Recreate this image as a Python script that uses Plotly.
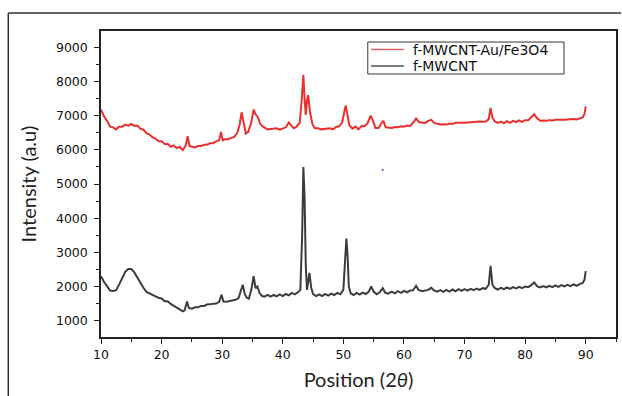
import plotly.graph_objects as go

# ---- data ----
red_x = [10.0, 10.5, 11.0, 11.5, 12.0, 12.5, 13.0, 13.5, 14.0, 14.5, 15.0, 15.5, 16.0, 16.5, 17.0, 17.5,
         18.0, 18.5, 19.0, 19.5, 20.0, 20.5, 21.0, 21.5, 22.0, 22.5, 23.0, 23.5, 24.0, 24.3, 24.6, 25.0,
         25.5, 26.0, 26.5, 27.0, 27.5, 28.0, 28.5, 29.0, 29.5, 29.8, 30.1, 30.5, 31.0, 31.5, 32.0, 32.5,
         32.9, 33.2, 33.5, 33.9, 34.3, 34.8, 35.2, 35.5, 35.9, 36.3, 36.8, 37.5, 38.0, 38.5, 39.0, 39.5,
         40.0, 40.5, 41.0, 41.4, 41.8, 42.3, 42.8, 43.1, 43.4, 43.6, 43.8, 44.0, 44.2, 44.5, 44.9, 45.3,
         45.8, 46.3, 46.8, 47.3, 47.8, 48.3, 48.8, 49.3, 49.8, 50.2, 50.4, 50.7, 51.0, 51.5, 52.0, 52.5,
         53.0, 53.5, 54.0, 54.5, 54.9, 55.3, 55.8, 56.3, 56.6, 57.0, 57.5, 58.0, 58.5, 59.0, 59.5, 60.0,
         60.5, 61.0, 61.5, 62.0, 62.5, 63.0, 63.5, 64.0, 64.5, 65.0, 65.5, 66.0, 66.5, 67.0, 67.5, 68.0,
         68.5, 69.0, 69.5, 70.0, 70.5, 71.0, 71.5, 72.0, 72.5, 73.0, 73.5, 74.0, 74.3, 74.6, 75.0, 75.5,
         76.0, 76.5, 77.0, 77.5, 78.0, 78.5, 79.0, 79.5, 80.0, 80.5, 81.0, 81.5, 82.0, 82.5, 83.0, 83.5,
         84.0, 84.5, 85.0, 85.5, 86.0, 86.5, 87.0, 87.5, 88.0, 88.5, 89.0, 89.5, 89.8, 90.0]
red_y = [7180, 6980, 6850, 6680, 6660, 6600, 6680, 6680, 6740, 6710, 6760, 6700, 6710, 6620, 6590, 6490,
         6450, 6370, 6330, 6250, 6250, 6170, 6180, 6090, 6130, 6050, 6090, 5990, 6130, 6400, 6110, 6090,
         6070, 6110, 6110, 6150, 6150, 6190, 6190, 6250, 6280, 6520, 6280, 6310, 6310, 6350, 6380, 6500,
         6750, 7100, 6800, 6480, 6530, 6800, 7180, 7050, 6950, 6750, 6670, 6600, 6610, 6620, 6630, 6590,
         6630, 6660, 6800, 6720, 6630, 6680, 6800, 7400, 8200, 7500, 7020, 7450, 7600, 7100, 6750, 6630,
         6630, 6600, 6610, 6620, 6630, 6600, 6670, 6690, 6800, 7150, 7300, 7000, 6720, 6620, 6680, 6600,
         6700, 6690, 6780, 7000, 6850, 6640, 6640, 6780, 6850, 6660, 6640, 6640, 6670, 6660, 6690, 6680,
         6710, 6700, 6790, 6920, 6810, 6790, 6790, 6850, 6880, 6790, 6760, 6740, 6750, 6740, 6770, 6760,
         6790, 6780, 6790, 6790, 6800, 6800, 6820, 6810, 6830, 6820, 6830, 6900, 7230, 6950, 6830, 6790,
         6830, 6780, 6840, 6790, 6850, 6810, 6860, 6820, 6870, 6870, 6950, 7040, 6920, 6850, 6860, 6850,
         6870, 6860, 6880, 6870, 6880, 6880, 6890, 6890, 6900, 6890, 6920, 6950, 7050, 7270]

black_x = [10.0, 10.5, 11.0, 11.5, 12.0, 12.5, 13.0, 13.5, 14.0, 14.5, 15.0, 15.5, 16.0, 16.5, 17.0, 17.5,
           18.0, 18.5, 19.0, 19.5, 20.0, 20.5, 21.0, 21.5, 22.0, 22.5, 23.0, 23.5, 23.8, 24.2, 24.5, 25.0,
           25.5, 26.0, 26.5, 27.0, 27.5, 28.0, 28.5, 29.0, 29.5, 29.9, 30.2, 30.7, 31.2, 31.7, 32.2, 32.7,
           33.1, 33.4, 33.7, 34.0, 34.4, 34.8, 35.2, 35.5, 35.8, 36.2, 36.6, 37.0, 37.5, 38.0, 38.5, 39.0,
           39.5, 40.0, 40.5, 41.0, 41.5, 42.0, 42.5, 42.9, 43.2, 43.4, 43.6, 43.8, 44.0, 44.4, 44.7, 45.0,
           45.5, 46.0, 46.5, 47.0, 47.5, 48.0, 48.5, 49.0, 49.5, 50.0, 50.3, 50.5, 50.7, 50.9, 51.2, 51.7,
           52.2, 52.7, 53.2, 53.7, 54.2, 54.6, 55.0, 55.5, 56.0, 56.5, 56.9, 57.4, 58.0, 58.5, 59.0, 59.5,
           60.0, 60.5, 61.0, 61.5, 62.0, 62.4, 63.0, 63.5, 64.0, 64.5, 65.0, 65.5, 66.0, 66.5, 67.0, 67.5,
           68.0, 68.5, 69.0, 69.5, 70.0, 70.5, 71.0, 71.5, 72.0, 72.5, 73.0, 73.5, 74.0, 74.3, 74.6, 75.0,
           75.5, 76.0, 76.5, 77.0, 77.5, 78.0, 78.5, 79.0, 79.5, 80.0, 80.5, 81.0, 81.5, 82.0, 82.5, 83.0,
           83.5, 84.0, 84.5, 85.0, 85.5, 86.0, 86.5, 87.0, 87.5, 88.0, 88.5, 89.0, 89.5, 89.8, 90.0]
black_y = [2300, 2130, 2010, 1880, 1870, 1890, 2060, 2240, 2430, 2510, 2510, 2410, 2260, 2090, 1960, 1840,
           1790, 1750, 1710, 1670, 1650, 1570, 1570, 1490, 1430, 1370, 1330, 1270, 1300, 1560, 1370, 1350,
           1390, 1390, 1430, 1430, 1470, 1470, 1490, 1500, 1550, 1760, 1560, 1550, 1570, 1570, 1610, 1660,
           1900, 2050, 1800, 1680, 1640, 1900, 2300, 1950, 2000, 1800, 1720, 1700, 1750, 1700, 1750, 1710,
           1770, 1720, 1780, 1740, 1810, 1770, 1830, 1900, 3500, 5500, 4600, 2600, 1900, 2400, 1950, 1780,
           1720, 1770, 1720, 1780, 1730, 1790, 1750, 1810, 1770, 1900, 2800, 3400, 2900, 2000, 1800, 1750,
           1810, 1760, 1820, 1780, 1850, 2000, 1850, 1770, 1830, 1950, 1820, 1790, 1850, 1800, 1860, 1810,
           1870, 1830, 1880, 1890, 2020, 1900, 1860, 1890, 1900, 1960, 1880, 1850, 1890, 1840, 1900, 1850,
           1910, 1860, 1920, 1870, 1920, 1880, 1930, 1890, 1940, 1900, 1950, 1930, 2050, 2600, 2050, 1950,
           1910, 1960, 1920, 1970, 1930, 1980, 1940, 1990, 1950, 2000, 1980, 2040, 2120, 2000, 1970, 2010,
           1970, 2020, 1980, 2030, 1990, 2040, 2000, 2050, 2010, 2060, 2020, 2070, 2100, 2200, 2450]

series_names = ["f-MWCNT-Au/Fe3O4", "f-MWCNT"]
series_colors = ["#e8302f", "#3c3c3c"]
legend_line_colors = ["#e06464", "#505050"]
x_ticks = [10, 20, 30, 40, 50, 60, 70, 80, 90]
y_ticks = [1000, 2000, 3000, 4000, 5000, 6000, 7000, 8000, 9000]
stray_x = [56.5]
stray_y = [5410]

fig = go.Figure()
fig.add_trace(go.Scatter(x=red_x, y=red_y, mode="lines", name=series_names[0],
                         line=dict(color=series_colors[0], width=2.0)))
fig.add_trace(go.Scatter(x=black_x, y=black_y, mode="lines", name=series_names[1],
                         line=dict(color=series_colors[1], width=2.0)))
fig.add_trace(go.Scatter(x=stray_x, y=stray_y, mode="markers", showlegend=False,
                         marker=dict(color="#5050d0", size=2), hoverinfo="skip"))

# legend box drawn as layout elements (paper coordinates)
lg_x0, lg_x1, lg_y0, lg_y1 = 0.518, 0.899, 0.8595, 0.964
lg_rows = [0.9395, 0.8855]
shapes = [
    dict(type="line", xref="paper", yref="paper", x0=-0.18, x1=-0.18, y0=1.0588, y1=-0.2,
         line=dict(color="#333", width=1.5)),
    dict(type="line", xref="paper", yref="paper", x0=-0.18, x1=1.01, y0=1.0588, y1=1.0588,
         line=dict(color="#333", width=1.5)),
    dict(type="rect", xref="paper", yref="paper", x0=lg_x0, x1=lg_x1, y0=lg_y0, y1=lg_y1,
         line=dict(color="#333", width=1), fillcolor="white", layer="above"),
]
annotations = []
for name, col, yy in zip(series_names, legend_line_colors, lg_rows):
    shapes.append(dict(type="line", xref="paper", yref="paper", x0=0.5242, x1=0.588, y0=yy, y1=yy,
                       line=dict(color=col, width=1.6), layer="above"))
    annotations.append(dict(xref="paper", yref="paper", x=0.6015, y=yy, xanchor="left",
                            yanchor="middle", text=name, showarrow=False,
                            font=dict(family="DejaVu Sans", size=14, color="#111")))

tick_font = dict(family="DejaVu Sans", size=12.5, color="#111")
fig.update_layout(
    width=622, height=396,
    margin=dict(l=101, r=4, t=31, b=59),
    paper_bgcolor="white", plot_bgcolor="white",
    showlegend=False,
    xaxis=dict(range=[10, 95], tickvals=x_ticks, ticks="outside", ticklen=5, tickwidth=1,
               tickcolor="#222", showline=True, linecolor="#222", linewidth=1.5, mirror=True,
               showgrid=False, zeroline=False, tickfont=tick_font,
               minor=dict(dtick=5, tick0=10, ticks="outside", ticklen=3, tickcolor="#222"),
               title=dict(text="Position (2<i>θ</i>)", standoff=12,
                          font=dict(family="Lato", size=20, color="#222"))),
    yaxis=dict(range=[520, 9480], tickvals=y_ticks, ticks="outside", ticklen=5, tickwidth=1,
               tickcolor="#222", showline=True, linecolor="#222", linewidth=1.5, mirror=True,
               showgrid=False, zeroline=False, tickfont=tick_font, ticklabelstandoff=4,
               minor=dict(dtick=500, tick0=0, ticks="outside", ticklen=3, tickcolor="#222"),
               title=dict(text="Intensity (a.u)", standoff=14,
                          font=dict(family="Lato", size=20, color="#222"))),
    shapes=shapes,
    annotations=annotations,
)

fig.write_html("out.html")
